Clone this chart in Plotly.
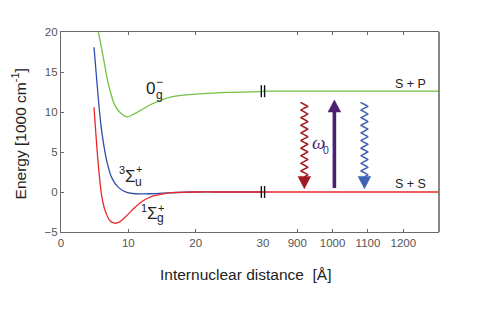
import numpy as np
import plotly.graph_objects as go

# ---------------- data ----------------
# near region (Å) potential curves, energies in 1000 cm^-1
red_x = [4.90, 5.55, 6.04, 6.54, 7.28, 7.93, 8.77, 9.76, 11.0, 12.2, 13.5, 15.0, 16.4, 20.0, 25.0, 30.0]
red_e = [10.6, 3.3, -0.46, -2.3, -3.6, -3.9, -3.7, -2.95, -1.9, -1.1, -0.54, -0.25, -0.08, 0.0, 0.0, 0.0]

blue_x = [4.90, 5.55, 5.94, 6.29, 6.79, 7.53, 8.52, 9.76, 11.0, 13.0, 15.0, 16.9, 20.0, 25.0, 30.0]
blue_e = [18.1, 11.6, 8.3, 6.2, 3.9, 1.8, 0.58, -0.04, -0.22, -0.22, -0.15, -0.07, 0.0, 0.0, 0.0]

green_x = [5.55, 6.29, 7.03, 8.02, 9.0, 9.85, 11.0, 13.5, 16.4, 21.1, 25.0, 30.0]
green_e = [20.0, 16.8, 13.5, 10.8, 9.75, 9.4, 9.83, 11.0, 11.9, 12.3, 12.45, 12.55]

# far region asymptotes
far_x = [803, 1301]
sp_level = [12.6, 12.6]
ss_level = [0.0, 0.0]

# axis ticks
near_ticks = [0, 10, 20, 30]
far_ticks = [900, 1000, 1100, 1200]
y_ticks = [-5, 0, 5, 10, 15, 20]

# transition arrows (x in Å, energies)
arrow_red_x, arrow_pur_x, arrow_blue_x = 920, 1005, 1090
wave_top, wave_bottom, head_tip_low = 11.2, 1.9, 0.4
pur_bottom, pur_head_base, pur_tip = 0.5, 10.0, 11.5

# ---------------- styles ----------------
C_RED = "#e8262b"
C_BLUE = "#2f4fa8"
C_GREEN = "#72c246"
C_AR_RED = "#9e1b22"
C_AR_BLUE = "#3c63b5"
C_PUR = "#4b1f72"
AX = "#6a6a6a"
FONT = "Liberation Sans"

fig = go.Figure()

def add_line(x, y, color, axis="x", shape="spline"):
    fig.add_trace(go.Scatter(x=x, y=y, mode="lines", xaxis=axis, yaxis="y",
                             line=dict(color=color, width=1.3, shape=shape, smoothing=0.8),
                             showlegend=False, hoverinfo="skip"))

add_line(green_x, green_e, C_GREEN)
add_line(blue_x, blue_e, C_BLUE)
add_line(red_x, red_e, C_RED)
add_line(far_x, sp_level, C_GREEN, "x2", "linear")
add_line(far_x, ss_level, C_RED, "x2", "linear")

# wavy arrows
amp = 9.5        # Å (≈3.4 px)
lam = 0.95       # energy units per wiggle
head_hw = 18.0   # half-width of head (Å)

def wavy(xc, color):
    e = np.linspace(wave_bottom, wave_top, 400)
    x = xc + amp * np.sin(2 * np.pi * (e - wave_bottom) / lam)
    fig.add_trace(go.Scatter(x=x, y=e, mode="lines", xaxis="x2", yaxis="y",
                             line=dict(color=color, width=1.5), showlegend=False, hoverinfo="skip"))
    fig.add_trace(go.Scatter(x=[xc - head_hw, xc + head_hw, xc, xc - head_hw],
                             y=[wave_bottom + 0.05, wave_bottom + 0.05, head_tip_low, wave_bottom + 0.05],
                             mode="lines", fill="toself", fillcolor=color, xaxis="x2", yaxis="y",
                             line=dict(color=color, width=0.5), showlegend=False, hoverinfo="skip"))

wavy(arrow_red_x, C_AR_RED)
wavy(arrow_blue_x, C_AR_BLUE)

fig.add_trace(go.Scatter(x=[arrow_pur_x, arrow_pur_x], y=[pur_bottom, pur_head_base + 0.1], mode="lines",
                         xaxis="x2", yaxis="y", line=dict(color=C_PUR, width=3.6),
                         showlegend=False, hoverinfo="skip"))
fig.add_trace(go.Scatter(x=[arrow_pur_x - head_hw, arrow_pur_x + head_hw, arrow_pur_x, arrow_pur_x - head_hw],
                         y=[pur_head_base, pur_head_base, pur_tip, pur_head_base],
                         mode="lines", fill="toself", fillcolor=C_PUR, xaxis="x2", yaxis="y",
                         line=dict(color=C_PUR, width=0.5), showlegend=False, hoverinfo="skip"))

# break marks
shapes = []
for xr, xv in [("x", 29.75), ("x2", 807.5)]:
    for lvl in [sp_level[0], ss_level[0]]:
        shapes.append(dict(type="line", xref=xr, yref="y", x0=xv, x1=xv, y0=lvl - 0.75, y1=lvl + 0.75,
                           line=dict(color="#111111", width=1.4)))
# right frame line
shapes.append(dict(type="line", xref="paper", yref="paper", x0=1, x1=1, y0=0, y1=1,
                   line=dict(color=AX, width=1.6)))

ann = []
def txt(x, y, s, size, xref="x", color="#222222", family=FONT, xanchor="center", yanchor="middle"):
    ann.append(dict(x=x, y=y, xref=xref, yref="y", text=s,
                    showarrow=False, font=dict(size=size, color=color, family=family),
                    xanchor=xanchor, yanchor=yanchor))

# state labels
txt(13.33, 13.0, "0", 17)
txt(14.6, 12.15, "g", 12)
txt(14.6, 13.75, "−", 12)

txt(9.1, 2.75, "3", 11)
txt(10.3, 2.0, "Σ", 17)
txt(11.55, 1.25, "u", 12)
txt(11.65, 2.85, "+", 11)

txt(12.35, -1.95, "1", 11)
txt(13.55, -2.7, "Σ", 17)
txt(14.85, -3.2, "g", 12)
txt(14.85, -1.95, "+", 11)

# asymptote labels
txt(1270, 13.56, "S + P", 12.5, xref="x2", xanchor="right")
txt(1270, 1.0, "S + S", 12.5, xref="x2", xanchor="right")

# omega_0
txt(961, 6.15, "<i>ω</i>", 19, xref="x2", color=C_PUR, family="Liberation Serif")
txt(982, 5.3, "0", 10.5, xref="x2", color=C_PUR)

# axis titles
ann.append(dict(x=0.487, y=-0.21, xref="paper", yref="paper", text="Internuclear distance  [Å]",
                showarrow=False, font=dict(size=15.5, color="#222222", family=FONT),
                xanchor="center", yanchor="middle"))
ann.append(dict(x=-0.11, y=0.49, xref="paper", yref="paper", text="Energy [1000 cm<sup>-1</sup>]",
                showarrow=False, font=dict(size=15.5, color="#222222", family=FONT),
                xanchor="center", yanchor="middle", textangle=-90))

d1 = (263 - 61) / 378
axcommon = dict(showline=True, linecolor=AX, linewidth=1.2, ticks="inside", ticklen=3, tickcolor=AX,
                showgrid=False, zeroline=False, mirror="ticks",
                tickfont=dict(size=11.5, color="#555555", family=FONT))

# page body adds an 8 px margin; shrink figure so the plot area lands where the reference has it
fig.update_layout(
    width=472, height=301,
    margin=dict(l=53, r=41, t=24, b=77),
    paper_bgcolor="white", plot_bgcolor="white",
    xaxis=dict(domain=[0, d1], range=[0, 30], tickvals=near_ticks, anchor="y", **axcommon),
    xaxis2=dict(domain=[d1, 1], range=[far_x[0], far_x[1]], tickvals=far_ticks, anchor="y", **axcommon),
    yaxis=dict(range=[-5, 20], tickvals=y_ticks, anchor="x", showline=True, linecolor=AX, linewidth=1.2,
               ticks="inside", ticklen=3, tickcolor=AX, showgrid=False, zeroline=False,
               tickfont=dict(size=11.5, color="#555555", family=FONT)),
    shapes=shapes, annotations=ann, showlegend=False,
)

fig.write_html("out.html")
